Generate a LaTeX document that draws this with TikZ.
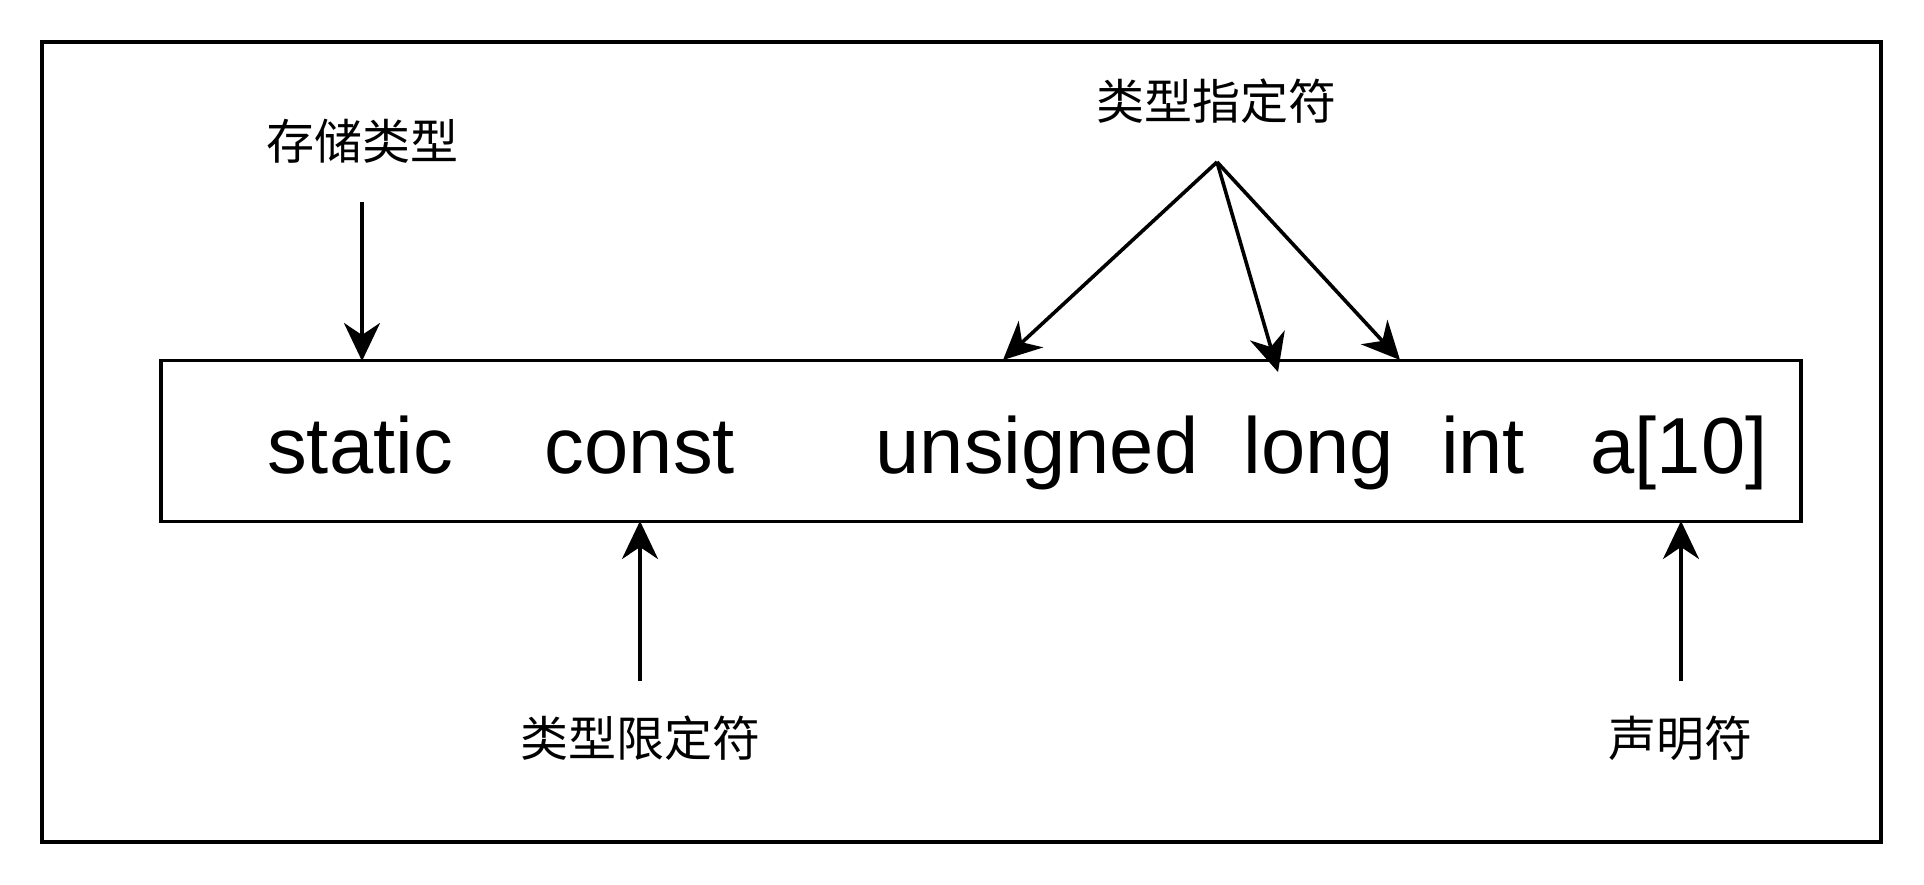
\documentclass[tikz,border=0pt]{standalone}
\usepackage{fontspec}
\setmainfont{Liberation Sans}
\newfontfamily\cjk{Noto Sans CJK SC}
\usetikzlibrary{arrows.meta}
\begin{document}
\begin{tikzpicture}[x=1pt,y=-1pt,
  frame/.style={draw=black, line width=3.6pt, inner sep=0, fill=none},
  code/.style={font=\fontsize{79.5}{90}\selectfont, anchor=base, inner sep=0},
  lab/.style={font=\cjk\fontsize{48}{56}\selectfont, inner sep=0},
  arr/.style={line width=3.6pt, -{Stealth[length=38pt,width=36pt,inset=12pt]}}
]
\useasboundingbox (0,0) rectangle (1924,884);
% outer frame
\node[frame, minimum width=1839pt, minimum height=800pt] (outer) at (961.5,442) {};
% declaration box
\node[frame, minimum width=1640pt, minimum height=161pt] (decl) at (981,441) {};
% words
\node[code] (wstatic) at (360,473) {static};
\node[code] (wconst) at (640,473) {const};
\node[code] (wunsigned) at (1037,473) {unsigned};
\node[code] (wlong) at (1319,473) {long};
\node[code] (wint) at (1483,473) {int};
\node[code] (wa) at (1679,473) {a[10]};
% labels
\node[lab] (storage) at (362,141) {存储类型};
\node[lab] (spec) at (1216,101) {类型指定符};
\node[lab] (qual) at (640,738) {类型限定符};
\node[lab] (declr) at (1680,738) {声明符};
% connector anchors
\coordinate (s0) at (362,202);
\coordinate (s1) at (362,361);
\coordinate (apex) at (1217,162);
\coordinate (u1) at (1003,360);
\coordinate (l1) at (1278,372);
\coordinate (i1) at (1400,360);
\coordinate (q0) at (640,681);
\coordinate (q1) at (640,521);
\coordinate (d0) at (1681,681);
\coordinate (d1) at (1681,521);
% arrows
\draw[arr] (s0) -- (s1);
\draw[arr] (apex) -- (u1);
\draw[arr] (apex) -- (l1);
\draw[arr] (apex) -- (i1);
\draw[arr] (q0) -- (q1);
\draw[arr] (d0) -- (d1);
\end{tikzpicture}
\end{document}
